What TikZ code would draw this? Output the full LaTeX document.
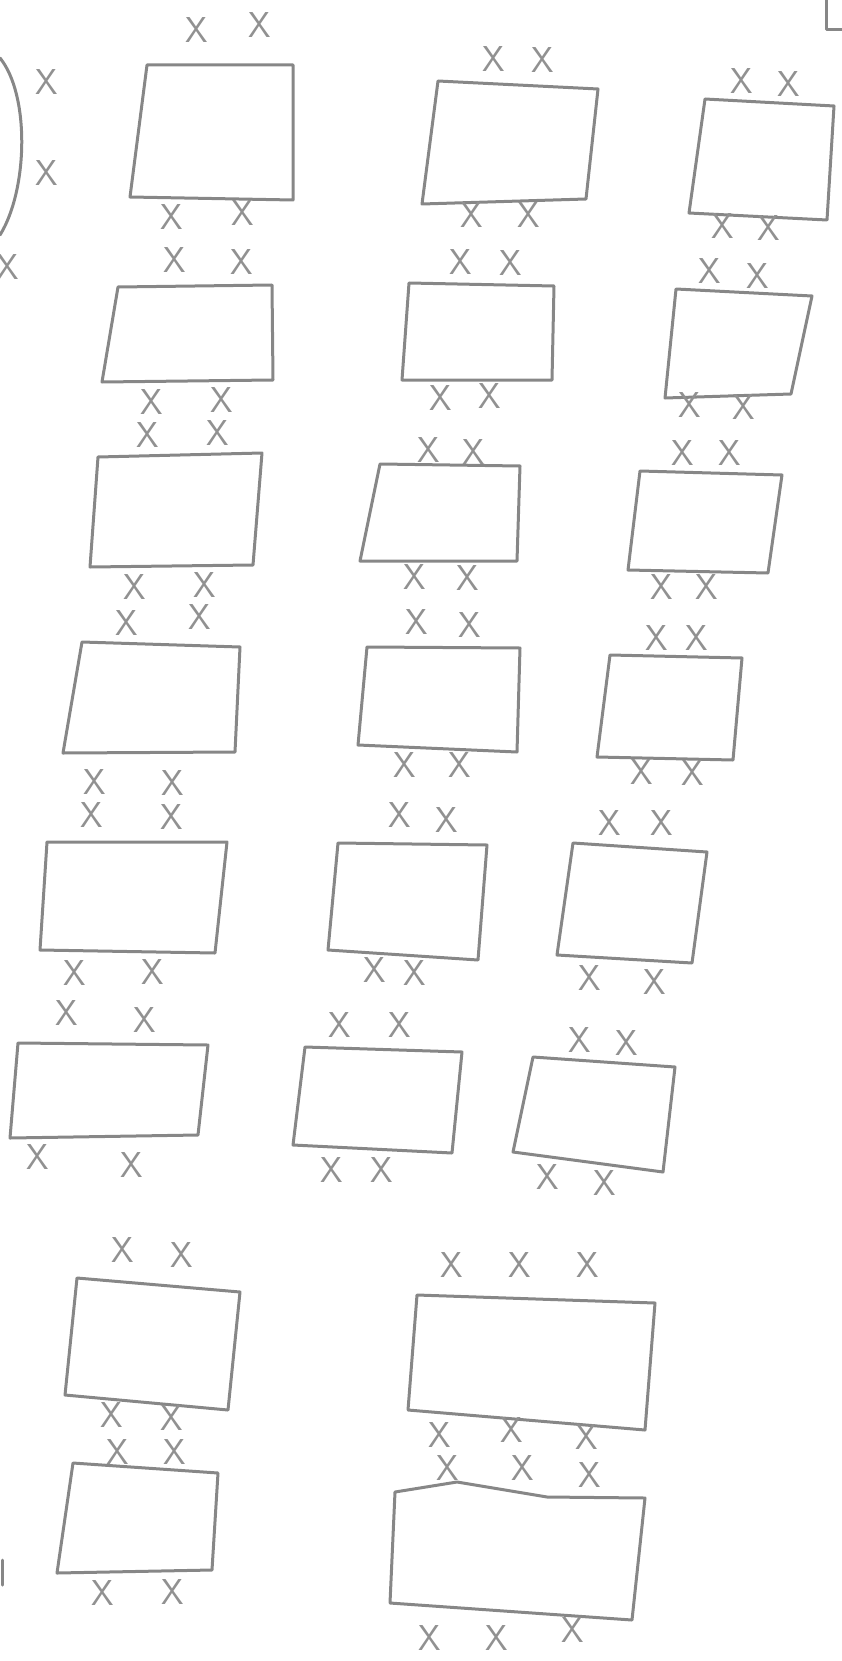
\documentclass[tikz,border=0pt]{standalone}
\usepackage{tikz}
\usepackage{xcolor}
\definecolor{pencil}{RGB}{135, 135, 135}
\definecolor{lead}{RGB}{145, 145, 145}
\tikzset{
    sketch/.style={draw=pencil, line width=3pt, line join=round, line cap=round},
    cross/.style={font=\sffamily\fontsize{36}{36}\selectfont, text=lead, inner sep=0pt}
}

\begin{document}
\begin{tikzpicture}[x=1pt, y=-1pt]
    \useasboundingbox (0,0) rectangle (842,1661);
    % left bracket and the corner at the top right
    \draw[sketch] (0,58) .. controls (30,95) and (28,190) .. (0,235);
    \draw[sketch] (826,0) -- (826,30) -- (842,30);
    \draw[sketch] (2,1560) -- (2,1585);
    % first column
    \draw[sketch] (147,65) -- (293,65) -- (293,200) -- (130,197) -- cycle;
    \draw[sketch] (118,287) -- (272,285) -- (273,380) -- (102,382) -- cycle;
    \draw[sketch] (98,457) -- (262,453) -- (253,565) -- (90,567) -- cycle;
    \draw[sketch] (82,642) -- (240,647) -- (235,752) -- (63,753) -- cycle;
    \draw[sketch] (47,842) -- (227,842) -- (215,953) -- (40,950) -- cycle;
    \draw[sketch] (18,1043) -- (208,1045) -- (198,1135) -- (10,1138) -- cycle;
    % second column
    \draw[sketch] (438,81) -- (598,89) -- (586,199) -- (422,204) -- cycle;
    \draw[sketch] (409,283) -- (554,286) -- (552,380) -- (402,380) -- cycle;
    \draw[sketch] (380,464) -- (520,466) -- (517,561) -- (360,561) -- cycle;
    \draw[sketch] (367,647) -- (520,648) -- (517,752) -- (358,745) -- cycle;
    \draw[sketch] (338,843) -- (487,845) -- (478,960) -- (328,950) -- cycle;
    \draw[sketch] (305,1047) -- (462,1052) -- (452,1153) -- (293,1145) -- cycle;
    % third column
    \draw[sketch] (705,99) -- (834,106) -- (827,220) -- (689,213) -- cycle;
    \draw[sketch] (676,289) -- (812,296) -- (791,394) -- (665,398) -- cycle;
    \draw[sketch] (640,471) -- (782,475) -- (768,573) -- (628,570) -- cycle;
    \draw[sketch] (610,655) -- (742,658) -- (733,760) -- (597,757) -- cycle;
    \draw[sketch] (573,843) -- (707,852) -- (692,963) -- (557,955) -- cycle;
    \draw[sketch] (533,1057) -- (675,1067) -- (663,1172) -- (513,1152) -- cycle;
    % bottom pairs
    \draw[sketch] (77,1278) -- (240,1292) -- (228,1410) -- (65,1395) -- cycle;
    \draw[sketch] (73,1463) -- (218,1473) -- (212,1570) -- (57,1573) -- cycle;
    \draw[sketch] (417,1295) -- (655,1303) -- (645,1430) -- (408,1410) -- cycle;
    \draw[sketch] (395,1492) -- (457,1482) -- (547,1497) -- (645,1498) -- (632,1620) -- (390,1603) -- cycle;
    % crosses
    \foreach [count=\i] \p in {(47,82),(47,173),(8,267),
        (197,30),(260,25),(172,217),(243,213),(175,260),(242,262),
        (152,402),(222,400),(148,435),(218,433),(135,587),(205,585),
        (127,623),(200,617),(95,782),(173,783),(92,815),(172,817),
        (75,973),(153,972),(67,1013),(145,1020),(38,1157),(132,1165)}
        \node[cross] (a\i) at \p {X};
    \foreach [count=\i] \p in {(494,59),(543,60),(472,215),(529,215),(461,262),(511,263),
        (441,398),(490,396),(429,450),(474,452),(415,577),(468,578),
        (417,622),(470,625),(405,765),(460,765),(400,815),(447,820),
        (375,970),(415,973),(340,1025),(400,1025),(332,1170),(382,1170)}
        \node[cross] (b\i) at \p {X};
    \foreach [count=\i] \p in {(742,81),(789,84),(723,226),(769,228),(710,271),(758,276),
        (690,405),(744,407),(683,453),(730,453),(662,587),(707,587),
        (657,638),(697,638),(642,772),(693,773),(610,823),(662,823),
        (590,978),(655,982),(580,1040),(627,1043),(548,1177),(605,1183)}
        \node[cross] (c\i) at \p {X};
    \foreach [count=\i] \p in {(123,1250),(182,1255),(112,1415),(172,1418),
        (118,1452),(175,1452),(103,1593),(173,1592)}
        \node[cross] (d\i) at \p {X};
    \foreach [count=\i] \p in {(452,1265),(520,1265),(588,1265),(440,1435),(512,1430),(587,1437),
        (448,1468),(523,1468),(590,1475),(430,1638),(497,1638),(573,1630)}
        \node[cross] (e\i) at \p {X};
\end{tikzpicture}
\end{document}
